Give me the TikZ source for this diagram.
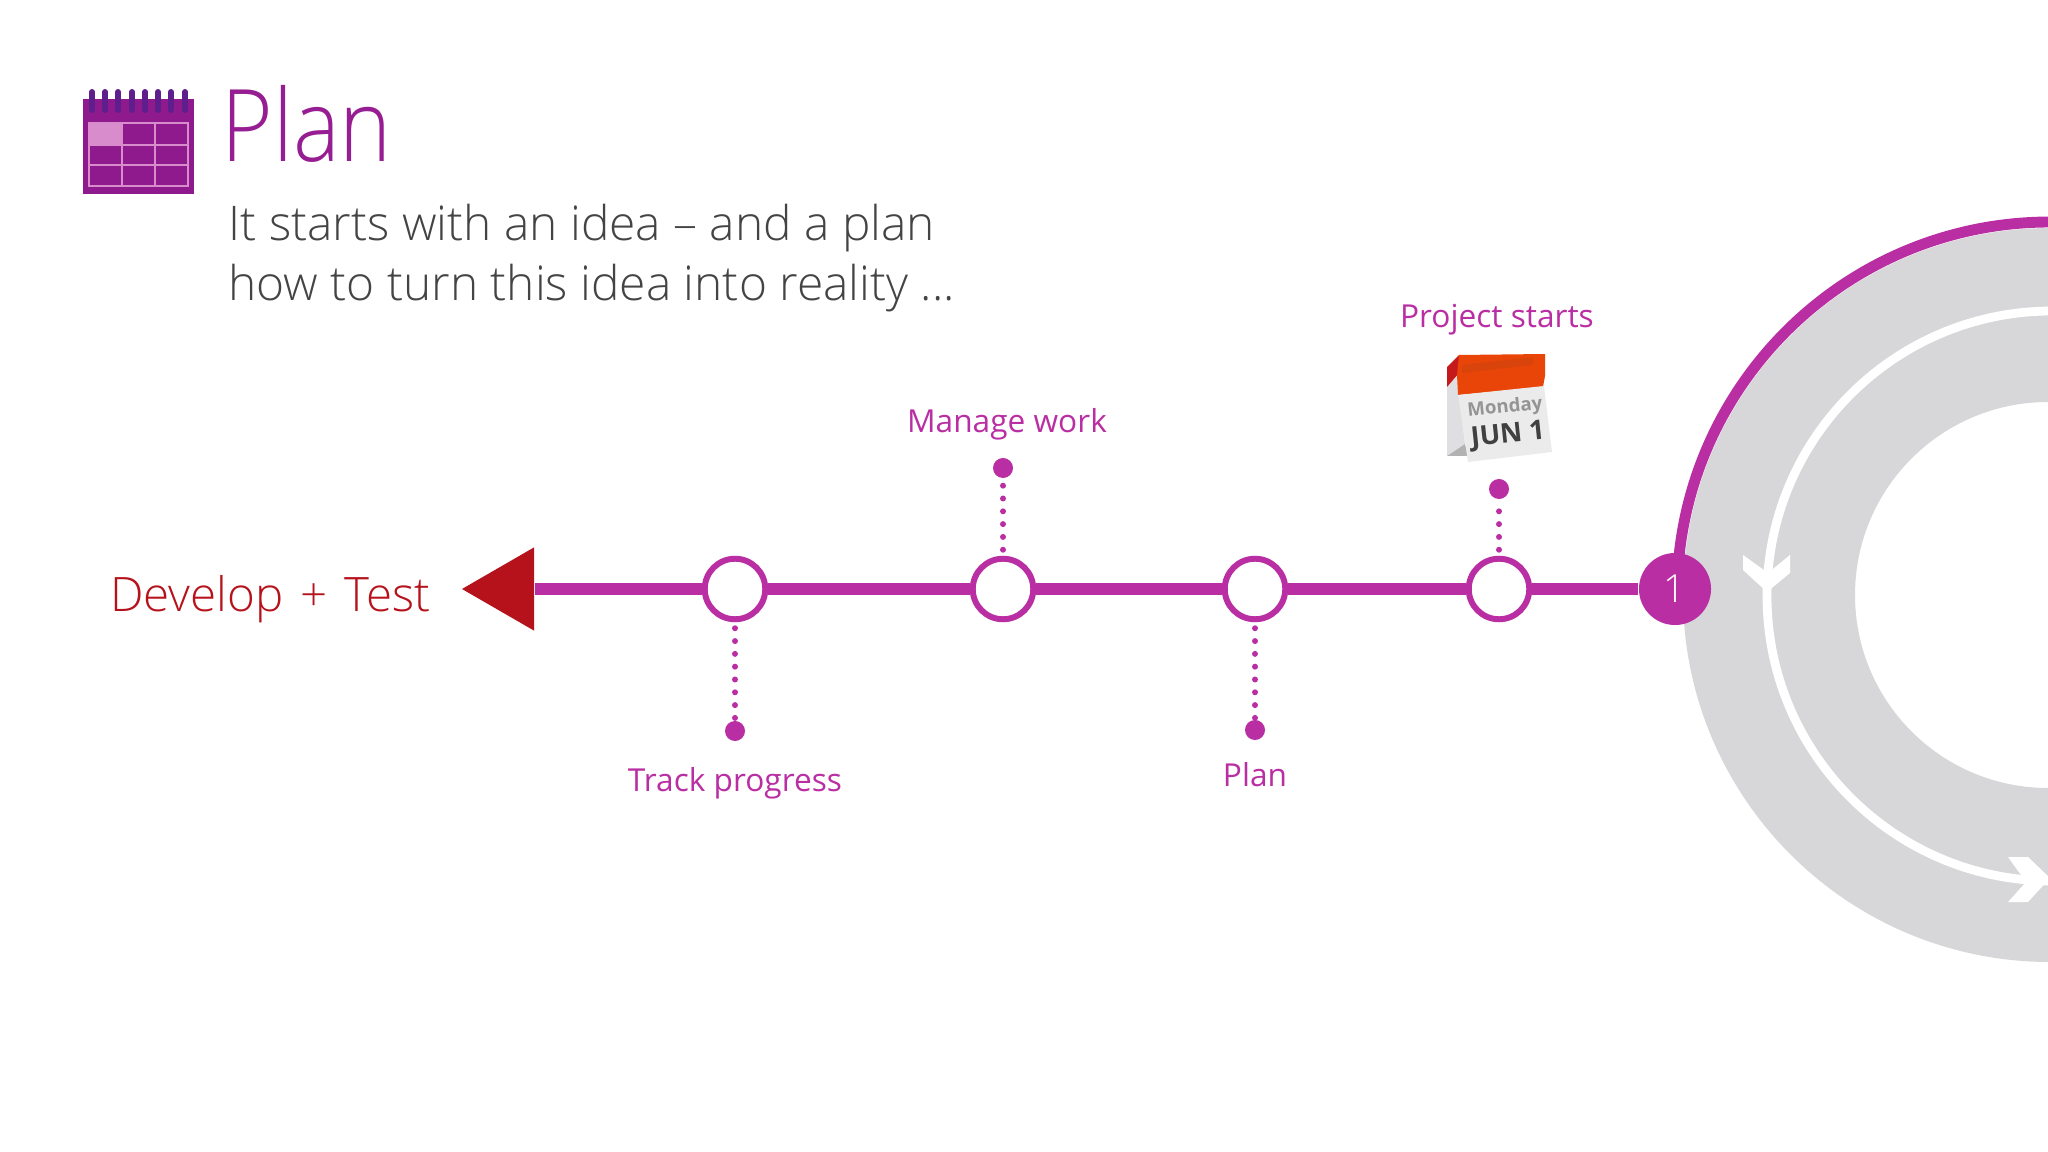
\documentclass[tikz,border=0pt]{standalone}
\usepackage{fontspec}
\setmainfont{Open Sans}
\newfontfamily\lightfont{Open Sans Light}
\newfontfamily\titlefont[FakeStretch=.88]{Open Sans Light}
\usetikzlibrary{shapes.geometric}
\definecolor{planpurple}{HTML}{BA2EA3}
\definecolor{icondark}{HTML}{8E1A8E}
\definecolor{iconring}{HTML}{5E1F8C}
\definecolor{iconline}{HTML}{D98CCB}
\definecolor{ringgray}{HTML}{D7D7D9}
\definecolor{arrowred}{HTML}{B5121B}
\definecolor{subtext}{HTML}{444444}
\definecolor{pageorange}{HTML}{EA4508}
\definecolor{pageband}{HTML}{D8440C}
\definecolor{pagered}{HTML}{C41A1C}
\tikzset{
  stopnode/.style={circle,draw=planpurple,fill=white,line width=1.7pt,minimum size=.605cm,inner sep=0pt},
  dotnode/.style={circle,fill=planpurple,minimum size=.2cm,inner sep=0pt},
  mainline/.style={draw=planpurple,line width=3.3pt},
  dotline/.style={draw=planpurple,line width=1.7pt,line cap=round,dash pattern=on 0pt off .128cm,shorten <=.06cm},
  labelnode/.style={text=planpurple,font=\fontsize{9}{11}\selectfont,inner sep=0pt,anchor=base},
}
\begin{document}
\begin{tikzpicture}[x=.01cm,y=-.01cm]
  \useasboundingbox (0,0) rectangle (2048,1152);
  % ring on the right
  \begin{scope}
    \clip (0,0) rectangle (2048,1152);
    \fill[ringgray,even odd rule] (2050,595) circle[radius=367] (2048,595) circle[radius=193];
    \draw[white,line width=2.5pt] (2052,311) arc[start angle=270,end angle=90,radius=285];
    \fill[white] (1743,555) -- (1743,570) -- (1767,592) -- (1790,573) -- (1790,555) -- (1768,573) -- cycle;
    \fill[white] (2008,857) -- (2028,857) -- (2050,878) -- (2028,902) -- (2008,902) -- (2026,882) -- cycle;
    \draw[planpurple,line width=3.1pt] (1677,595) arc[start angle=180,end angle=270,radius=373];
  \end{scope}
  % calendar icon
  \fill[icondark] (83,99) rectangle (194,194);
  \foreach \x in {92,105,118,132,145,158,171,185}
    \draw[iconring,line width=1.7pt,line cap=round] (\x,92) -- (\x,110);
  \fill[iconline] (89,123) rectangle (122,145);
  \draw[iconline,line width=.5pt] (89,123) rectangle (188,186) (122,123) -- (122,186) (155,123) -- (155,186) (89,145) -- (188,145) (89,165) -- (188,165);
  % heading
  \node[text=icondark!80!planpurple,font=\titlefont\fontsize{28.5}{30}\selectfont,inner sep=0pt,anchor=base west] (ntitle) at (221,162) {Plan};
  \node[text=subtext,font=\lightfont\fontsize{13.6}{17}\selectfont,inner sep=0pt,anchor=base west] (nsuba) at (228,241) {It starts with an idea – and a plan};
  \node[text=subtext,font=\lightfont\fontsize{13.6}{17}\selectfont,inner sep=0pt,anchor=base west] (nsubb) at (228,301) {how to turn this idea into reality ...};
  % page calendar
  \fill[ringgray!80!white] (1447,387) -- (1457,376) -- (1465,444) -- (1447,456) -- cycle;
  \fill[gray!60] (1447,456) -- (1465,444) -- (1468,456) -- cycle;
  \fill[pagered] (1447,367) -- (1459,355) -- (1459,373) -- (1447,387) -- cycle;
  \fill[pageorange] (1459,355) -- (1545,354) -- (1545,376) -- (1543,387) -- (1458,395) -- (1457,375) -- cycle;
  \fill[pageband] (1462,365) -- (1533,357) -- (1533,365) -- (1462,373) -- cycle;
  \fill[black!8] (1458,395) -- (1544,386) -- (1552,452) -- (1468,462) -- cycle;
  \node[rotate=6,text=black!42,font=\bfseries\fontsize{5.3}{6}\selectfont,inner sep=0pt] (nday) at (1505,408) {Monday};
  \node[rotate=6,text=black!75,font=\bfseries\fontsize{7.7}{9}\selectfont,inner sep=0pt] (ndate) at (1508,436) {JUN 1};
  % timeline
  \node[regular polygon,regular polygon sides=3,shape border rotate=90,fill=arrowred,inner sep=0pt,minimum size=.96cm] (nt) at (510,589) {};
  \node[stopnode] (na) at (735,589) {};
  \node[stopnode] (nb) at (1003,589) {};
  \node[stopnode] (nc) at (1255,589) {};
  \node[stopnode] (nd) at (1499,589) {};
  \node[circle,fill=planpurple,text=white,font=\lightfont\fontsize{11}{12}\selectfont,minimum size=.72cm,inner sep=0pt] (ne) at (1675,589) {1};
  \node[dotnode] (ka) at (735,731) {};
  \node[dotnode] (kb) at (1003,468) {};
  \node[dotnode] (kc) at (1255,730) {};
  \node[dotnode] (kd) at (1499,489) {};
  \foreach \from/\to in {ne/nd,nd/nc,nc/nb,nb/na,na/nt}
    \draw[mainline] (\from) -- (\to);
  \foreach \from/\to in {na/ka,nb/kb,nc/kc,nd/kd}
    \draw[dotline] (\from) -- (\to);
  % labels
  \node[labelnode] (la) at (735,791) {Track progress};
  \node[labelnode] (lb) at (1007,433) {Manage work};
  \node[labelnode] (lc) at (1255,786) {Plan};
  \node[labelnode] (ld) at (1497,328) {Project starts};
  \node[text=arrowred,font=\lightfont\fontsize{13.5}{15}\selectfont,inner sep=0pt,anchor=base east] (ldev) at (431,612) {Develop\hspace{.1em} + \hspace{.1em}Test};
\end{tikzpicture}
\end{document}
